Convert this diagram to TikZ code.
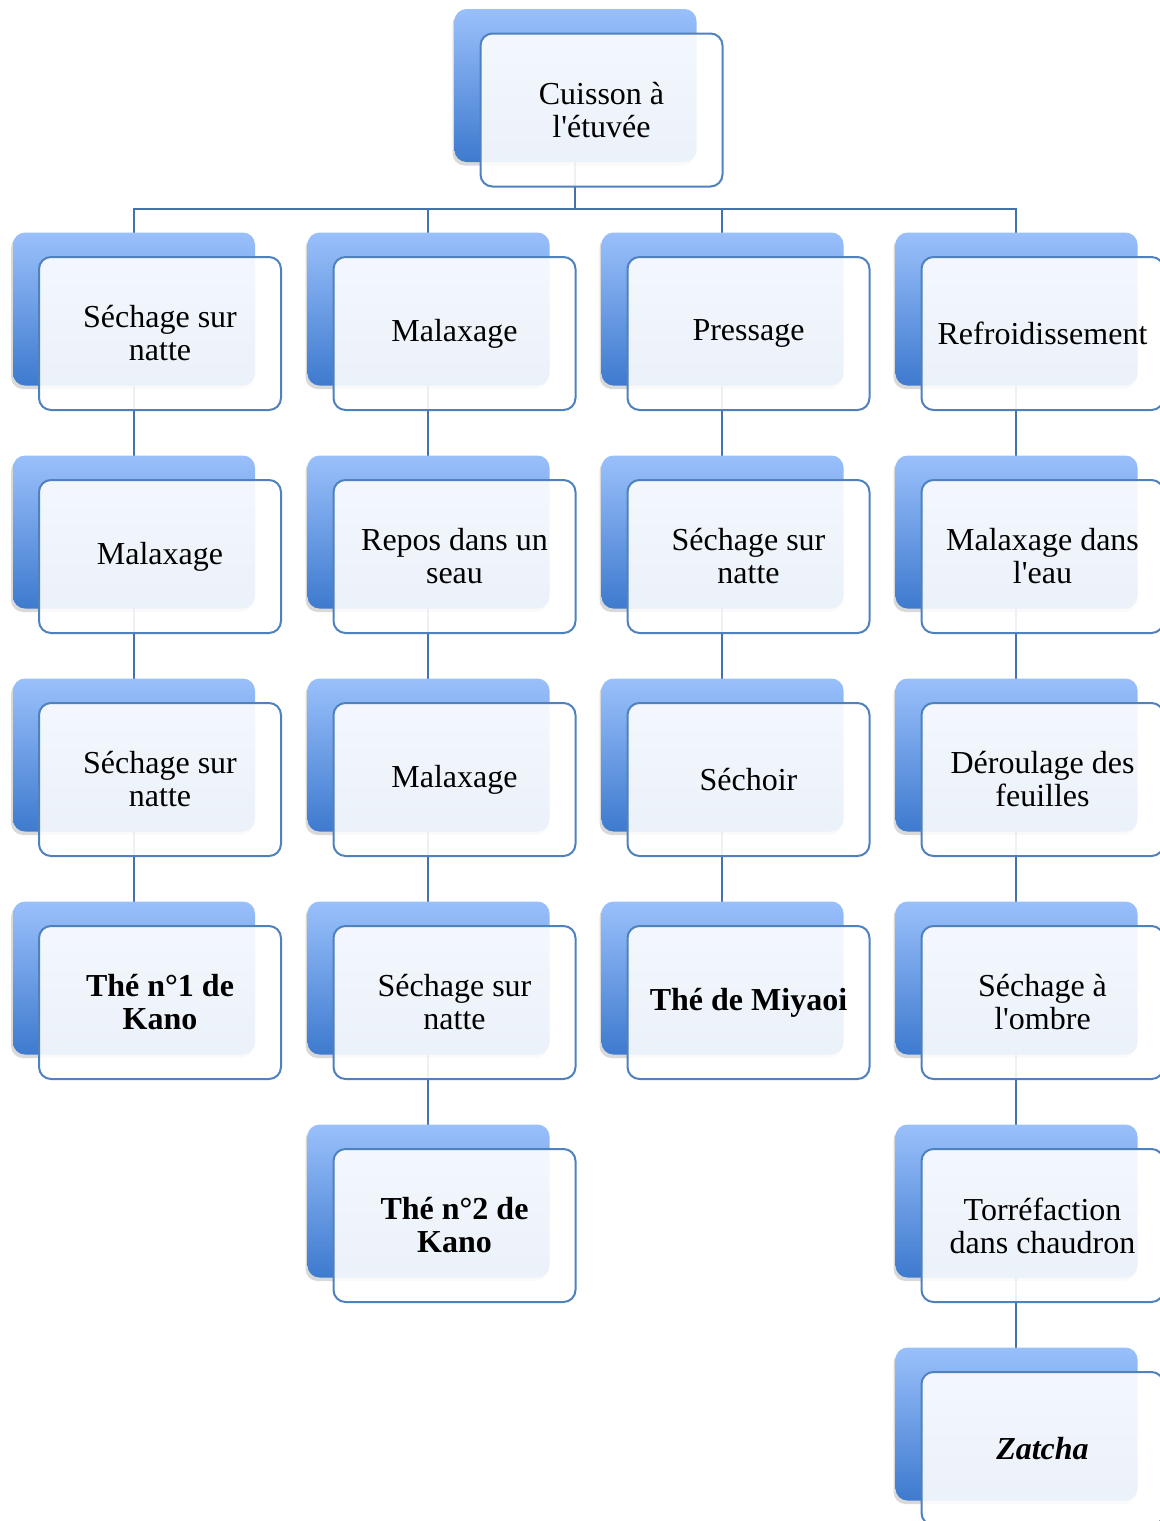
\documentclass[tikz,border=0pt]{standalone}
\usepackage{fontspec}
\setmainfont{Liberation Serif}
\usetikzlibrary{shadows,backgrounds}

\definecolor{bleuclair}{RGB}{154,192,251}
\definecolor{bleufonce}{RGB}{62,122,206}
\definecolor{bord}{RGB}{79,129,189}
\definecolor{lien}{RGB}{70,114,170}

\tikzset{
  etape/.style={
    draw=bord, line width=1pt,
    fill=white, fill opacity=0.9, text opacity=1,
    rounded corners=6pt,
    minimum width=121pt, minimum height=76.5pt,
    align=center,
    font=\fontsize{16}{16.5}\selectfont,
    general shadow={shadow xshift=-14pt, shadow yshift=10.5pt,
      fill=black, opacity=0.15},
    general shadow={shadow xshift=-13pt, shadow yshift=12.25pt,
      top color=bleuclair, bottom color=bleufonce, opacity=1}
  },
  trait/.style={draw=lien, line width=1pt}
}

\begin{document}
\begin{tikzpicture}[x=0.5pt,y=-0.5pt]

\useasboundingbox (0,0) rectangle (1160,1521);

% Racine
\node[etape] (racine) at (601.5,110) {Cuisson à\\l\textquotesingle étuvée};

% Colonne 1
\node[etape] (a1) at (160,333.5) {Séchage sur\\natte};
\node[etape] (a2) at (160,556.5) {Malaxage};
\node[etape] (a3) at (160,779.5) {Séchage sur\\natte};
\node[etape] (a4) at (160,1002.5) {\textbf{Thé n°1 de}\\\textbf{Kano}};

% Colonne 2
\node[etape] (b1) at (454.5,333.5) {Malaxage};
\node[etape] (b2) at (454.5,556.5) {Repos dans un\\seau};
\node[etape] (b3) at (454.5,779.5) {Malaxage};
\node[etape] (b4) at (454.5,1002.5) {Séchage sur\\natte};
\node[etape] (b5) at (454.5,1225.5) {\textbf{Thé n°2 de}\\\textbf{Kano}};

% Colonne 3
\node[etape] (c1) at (748.5,333.5) {Pressage};
\node[etape] (c2) at (748.5,556.5) {Séchage sur\\natte};
\node[etape] (c3) at (748.5,779.5) {Séchoir};
\node[etape] (c4) at (748.5,1002.5) {\textbf{Thé de Miyaoi}};

% Colonne 4
\node[etape] (d1) at (1042.5,333.5) {Refroidissement};
\node[etape] (d2) at (1042.5,556.5) {Malaxage dans\\l\textquotesingle eau};
\node[etape] (d3) at (1042.5,779.5) {Déroulage des\\feuilles};
\node[etape] (d4) at (1042.5,1002.5) {Séchage à\\l\textquotesingle ombre};
\node[etape] (d5) at (1042.5,1225.5) {Torréfaction\\dans chaudron};
\node[etape] (d6) at (1042.5,1448.5) {\textbf{\textit{Zatcha}}};

% Liens
\begin{scope}[on background layer]
\coordinate (bus) at (575,209);

\draw[trait]
([xshift=-13.25pt]racine.center) |- (bus);

\draw[trait] (bus) -| ([xshift=-13.25pt]a1.center);
\draw[trait] (bus) -| ([xshift=-13.25pt]b1.center);
\draw[trait] (bus) -| ([xshift=-13.25pt]c1.center);
\draw[trait] (bus) -| ([xshift=-13.25pt]d1.center);

\draw[trait]
([xshift=-13.25pt]a1.center)
-- ([xshift=-13.25pt]a2.center)
-- ([xshift=-13.25pt]a3.center)
-- ([xshift=-13.25pt]a4.center);

\draw[trait]
([xshift=-13.25pt]b1.center)
-- ([xshift=-13.25pt]b2.center)
-- ([xshift=-13.25pt]b3.center)
-- ([xshift=-13.25pt]b4.center)
-- ([xshift=-13.25pt]b5.center);

\draw[trait]
([xshift=-13.25pt]c1.center)
-- ([xshift=-13.25pt]c2.center)
-- ([xshift=-13.25pt]c3.center)
-- ([xshift=-13.25pt]c4.center);

\draw[trait]
([xshift=-13.25pt]d1.center)
-- ([xshift=-13.25pt]d2.center)
-- ([xshift=-13.25pt]d3.center)
-- ([xshift=-13.25pt]d4.center)
-- ([xshift=-13.25pt]d5.center)
-- ([xshift=-13.25pt]d6.center);
\end{scope}

\end{tikzpicture}
\end{document}
